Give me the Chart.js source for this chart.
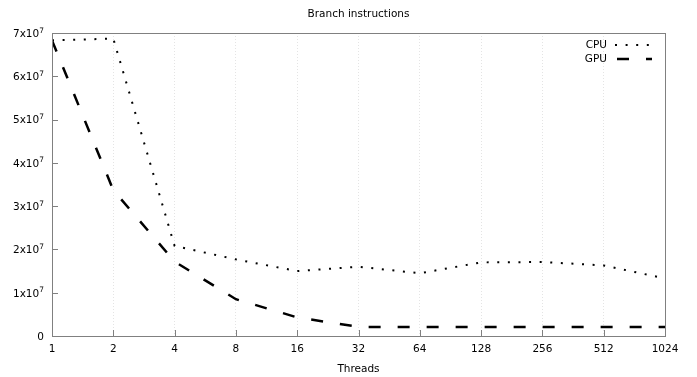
<!DOCTYPE html>
<html>
<head>
<meta charset="utf-8">
<script src="https://cdn.jsdelivr.net/npm/chart.js@4.4.0/dist/chart.umd.min.js"></script>
<style>
  html, body { margin: 0; padding: 0; background: #fff; }
  #wrap { width: 697px; height: 377px; }
</style>
</head>
<body>
<div id="wrap"><canvas id="branchChart" width="697" height="377"></canvas></div>
<script>
// data
const threads = [1, 2, 4, 8, 16, 32, 64, 128, 256, 512, 1024];
const xLabels = ['1', '2', '4', '8', '16', '32', '64', '128', '256', '512', '1024'];
const cpuValues = [6.83e7, 6.87e7, 2.08e7, 1.77e7, 1.5e7, 1.6e7, 1.45e7, 1.7e7, 1.71e7, 1.63e7, 1.33e7];
const gpuValues = [6.83e7, 3.37e7, 1.72e7, 0.85e7, 0.43e7, 0.21e7, 0.21e7, 0.21e7, 0.21e7, 0.21e7, 0.21e7];
const yTicks = [0, 1e7, 2e7, 3e7, 4e7, 5e7, 6e7, 7e7];
const yMantissa = ['0', '1x10', '2x10', '3x10', '4x10', '5x10', '6x10', '7x10'];
const yExponent = ['', '7', '7', '7', '7', '7', '7', '7'];

const FONT = '"DejaVu Sans", sans-serif';
const FONT_SIZE = 10.5;
const SUP_SIZE = 7.5;
const AXIS_COLOR = '#808080';

const cpuDash = [2, 8.6];
const gpuDash = [12, 17];

// threads are plotted on a log2 axis
const toPoints = (vals) => threads.map((t, i) => ({ x: Math.log2(t), y: vals[i] }));

// border box, inward ticks, y labels with exponents, title and legend
const decorPlugin = {
    id: 'decor',
    afterDatasetsDraw(chart) {
        const ctx = chart.ctx;
        const area = chart.chartArea;
        const xs = chart.scales.x;
        const ys = chart.scales.y;
        ctx.save();
        ctx.strokeStyle = AXIS_COLOR;
        ctx.lineWidth = 1;
        ctx.beginPath();
        xs.ticks.forEach(t => {
            const px = Math.round(xs.getPixelForValue(t.value)) + 0.5;
            ctx.moveTo(px, area.bottom);
            ctx.lineTo(px, area.bottom - 6);
        });
        ys.ticks.forEach(t => {
            const py = Math.round(ys.getPixelForValue(t.value)) + 0.5;
            ctx.moveTo(area.left, py);
            ctx.lineTo(area.left + 6, py);
        });
        ctx.stroke();
        ctx.strokeRect(Math.round(area.left) + 0.5, Math.round(area.top) + 0.5,
            Math.round(area.right - area.left), Math.round(area.bottom - area.top));

        // y tick labels: mantissa plus raised exponent
        ctx.fillStyle = '#000';
        ctx.textAlign = 'right';
        ctx.textBaseline = 'alphabetic';
        const labelRight = area.left - 8;
        yTicks.forEach((v, i) => {
            const py = ys.getPixelForValue(v);
            let x = labelRight;
            if (yExponent[i]) {
                ctx.font = SUP_SIZE + 'px ' + FONT;
                ctx.fillText(yExponent[i], x, py - 0.5);
                x -= ctx.measureText(yExponent[i]).width;
            }
            ctx.font = FONT_SIZE + 'px ' + FONT;
            ctx.fillText(yMantissa[i], x, py + 3.9);
        });

        // title
        ctx.font = FONT_SIZE + 'px ' + FONT;
        ctx.textAlign = 'center';
        ctx.textBaseline = 'middle';
        ctx.fillText('Branch instructions', (area.left + area.right) / 2, 14);

        // legend
        const entries = [
            { label: 'CPU', dash: cpuDash, width: 2, y: 45, x0: 615 },
            { label: 'GPU', dash: gpuDash, width: 2.5, y: 59, x0: 617 }
        ];
        entries.forEach(e => {
            ctx.textAlign = 'right';
            ctx.fillText(e.label, 607, e.y);
            ctx.beginPath();
            ctx.setLineDash(e.dash);
            ctx.lineWidth = e.width;
            ctx.strokeStyle = '#000';
            ctx.moveTo(e.x0, e.y);
            ctx.lineTo(652, e.y);
            ctx.stroke();
        });
        ctx.restore();
    }
};

const ctxChart = document.getElementById('branchChart').getContext('2d');

new Chart(ctxChart, {
    type: 'line',
    data: {
        datasets: [{
            label: 'CPU',
            data: toPoints(cpuValues),
            borderColor: '#000',
            borderWidth: 2,
            borderDash: cpuDash,
            pointRadius: 0,
            fill: false,
            tension: 0
        }, {
            label: 'GPU',
            data: toPoints(gpuValues),
            borderColor: '#000',
            borderWidth: 2.5,
            borderDash: gpuDash,
            pointRadius: 0,
            fill: false,
            tension: 0
        }]
    },
    options: {
        responsive: false,
        animation: false,
        layout: { padding: { left: 0, right: 32, top: 33, bottom: 0 } },
        plugins: {
            legend: { display: false },
            title: { display: false },
            tooltip: { enabled: false }
        },
        scales: {
            x: {
                type: 'linear',
                min: 0,
                max: 10,
                afterFit: (scale) => { scale.height = 41; },
                afterBuildTicks: (scale) => {
                    scale.ticks = xLabels.map((_, i) => ({ value: i }));
                },
                ticks: {
                    color: '#000',
                    font: { family: FONT, size: FONT_SIZE },
                    padding: 7,
                    maxRotation: 0,
                    autoSkip: false,
                    callback: (v) => xLabels[v]
                },
                grid: { color: '#e4e4e4', drawTicks: false },
                border: { display: false, dash: [1, 2] },
                title: {
                    display: true,
                    text: 'Threads',
                    color: '#000',
                    font: { family: FONT, size: FONT_SIZE },
                    padding: { top: 0, bottom: 1 }
                }
            },
            y: {
                min: 0,
                max: 7e7,
                afterFit: (scale) => { scale.width = 52; },
                afterBuildTicks: (scale) => {
                    scale.ticks = yTicks.map(v => ({ value: v }));
                },
                ticks: { display: false },
                grid: { display: false, drawTicks: false },
                border: { display: false }
            }
        }
    },
    plugins: [decorPlugin]
});
</script>
</body>
</html>
